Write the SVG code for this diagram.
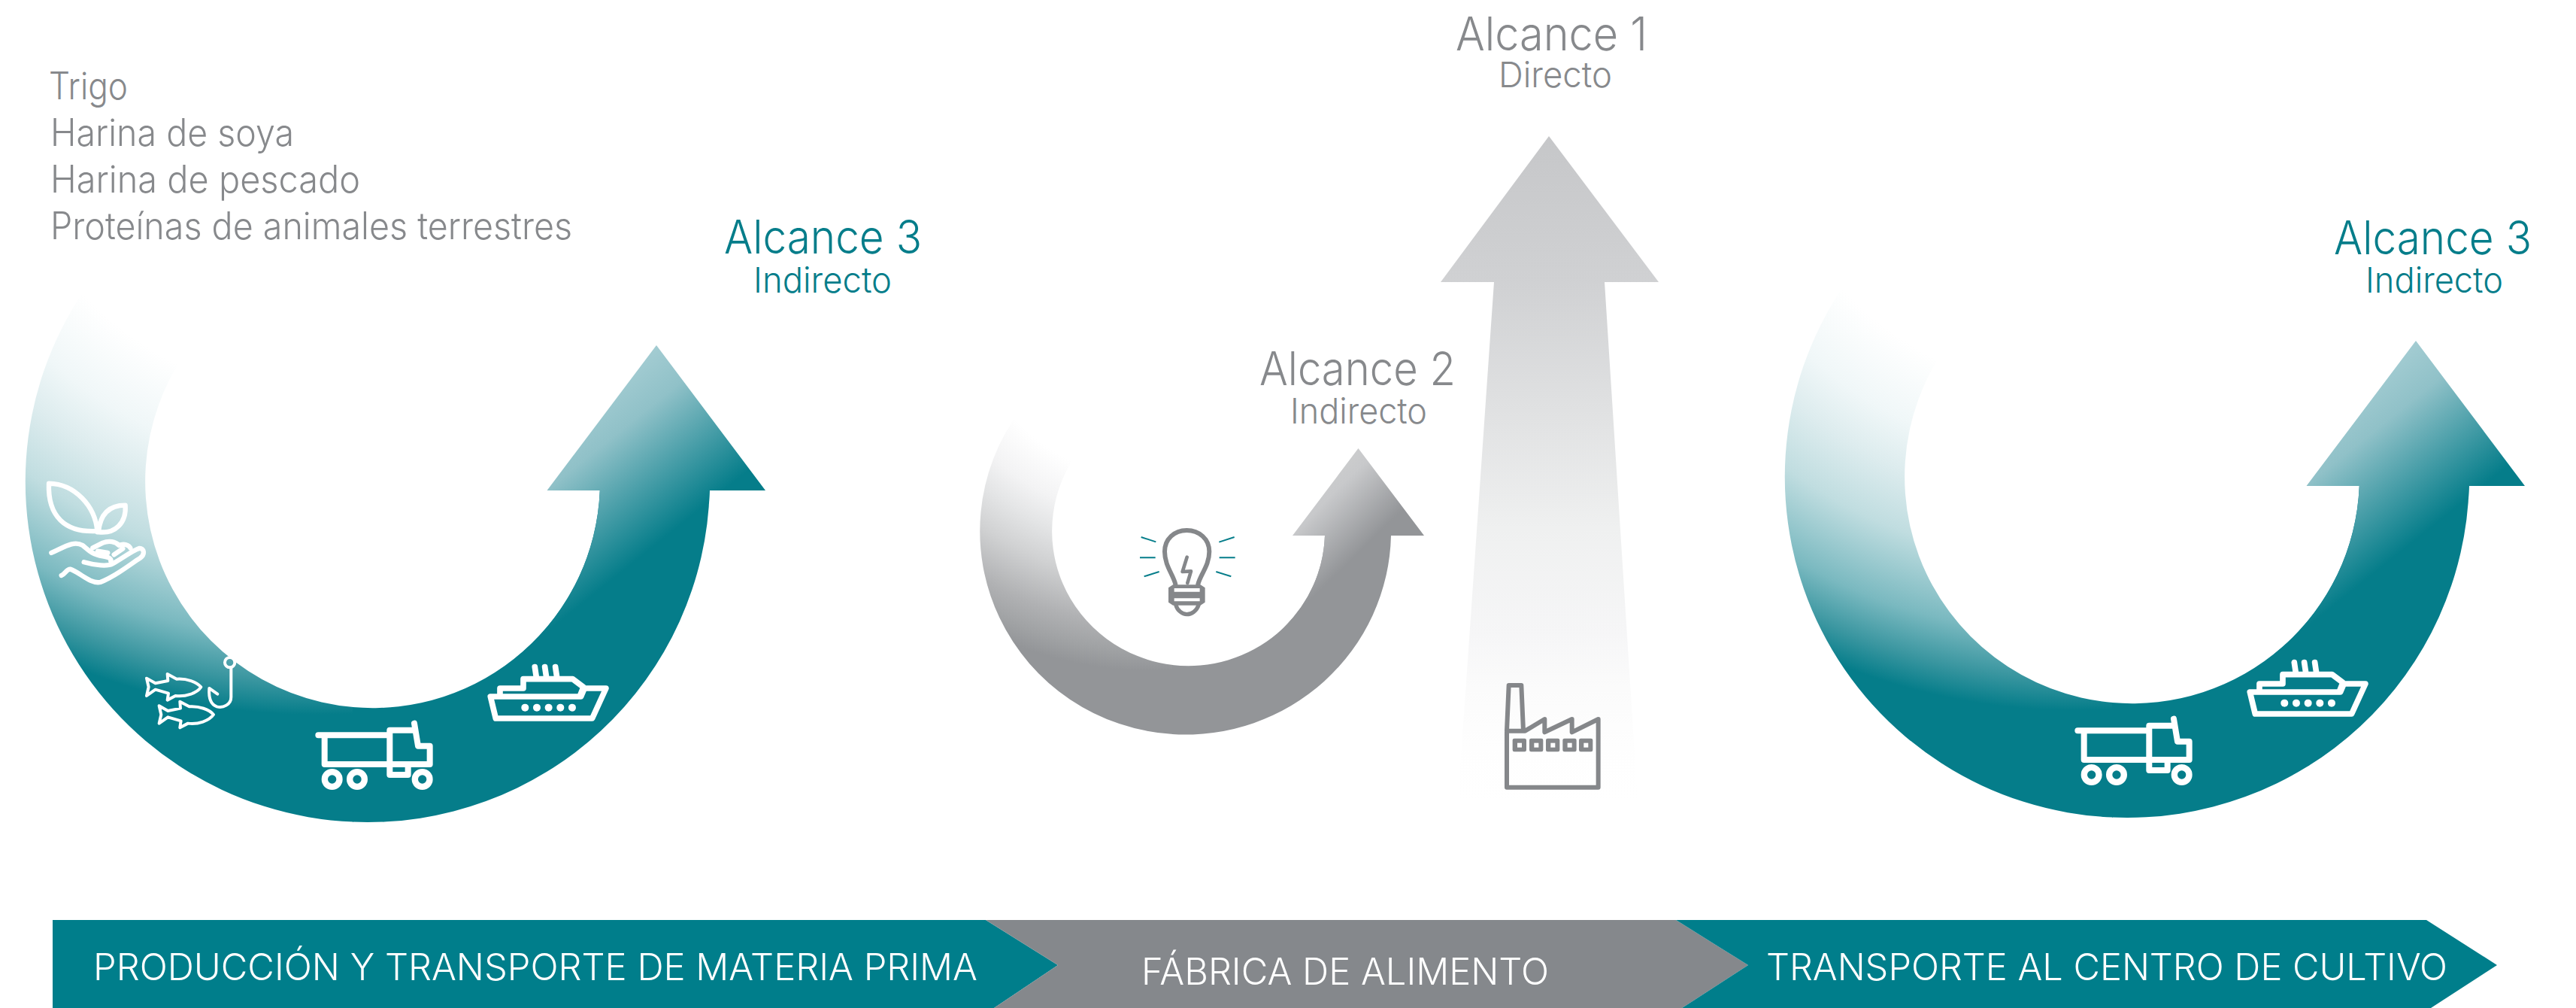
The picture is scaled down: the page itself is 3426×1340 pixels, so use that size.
<svg xmlns="http://www.w3.org/2000/svg" xmlns:xlink="http://www.w3.org/1999/xlink" width="3426" height="1340" viewBox="0 0 3426 1340">
<style>
text{font-family:"Inter","Liberation Sans",sans-serif;font-weight:300}
.g{fill:#87898c}.t{fill:#057d8a}.w{fill:#fff}
.l{font-size:50px}.a{font-size:62px}.b{font-size:47px}.c{font-size:49px}
.ic{fill:none;stroke:#fff;stroke-linecap:round;stroke-linejoin:round}
.gi{fill:none;stroke:#85878a;stroke-linecap:round;stroke-linejoin:round}
</style>
<defs>
<radialGradient id="tealBody" gradientUnits="userSpaceOnUse" cx="420" cy="100" r="850">
<stop offset=".5" stop-color="#fff"/><stop offset=".609" stop-color="#f0f7f8"/><stop offset=".681" stop-color="#ddecee"/><stop offset=".769" stop-color="#c0dde0"/><stop offset=".882" stop-color="#7ab9c0"/><stop offset=".95" stop-color="#3a96a0"/><stop offset="1" stop-color="#057d8a"/>
</radialGradient>
<linearGradient id="tealHead" gradientUnits="userSpaceOnUse" x1="873" y1="459" x2="1002" y2="620">
<stop offset="0" stop-color="#a3ccd2"/><stop offset=".285" stop-color="#90c1c8"/><stop offset="1" stop-color="#057d8a"/>
</linearGradient>
<radialGradient id="greyBody" gradientUnits="userSpaceOnUse" cx="1535" cy="382" r="510">
<stop offset=".5" stop-color="#fff"/><stop offset=".609" stop-color="#f3f3f4"/><stop offset=".681" stop-color="#e4e5e6"/><stop offset=".769" stop-color="#d0d1d2"/><stop offset=".882" stop-color="#b0b1b3"/><stop offset=".95" stop-color="#a0a2a4"/><stop offset="1" stop-color="#939598"/>
</radialGradient>
<linearGradient id="greyHead" gradientUnits="userSpaceOnUse" x1="1806.5" y1="596" x2="1876" y2="667">
<stop offset="0" stop-color="#cbcccd"/><stop offset=".2" stop-color="#c8c9cb"/><stop offset="1" stop-color="#939598"/>
</linearGradient>
<linearGradient id="upArrow" gradientUnits="userSpaceOnUse" x1="0" y1="181" x2="0" y2="1065">
<stop offset="0" stop-color="#c6c7c9"/><stop offset=".22" stop-color="#d0d1d3"/><stop offset=".59" stop-color="#eff0f0"/><stop offset=".75" stop-color="#f6f6f7"/><stop offset=".83" stop-color="#fbfbfb"/><stop offset=".92" stop-color="#fefefe"/><stop offset="1" stop-color="#fff"/>
</linearGradient>
<g id="tealArrow">
<path fill="url(#tealBody)" d="M112,386 A455,453 0 0 0 470,1092.6 L470,940 A302.5,301 0 0 1 279,430 Z"/>
<path class="t" d="M469,1092.6 A455,453 0 0 0 943.8,652 L797.8,652 A302.5,301 0 0 1 469,940 Z"/>
<path fill="url(#tealHead)" d="M727.5,652 L873,459 L1018,652 L943.8,652 L943,669 L684,876 A302.5,301 0 0 0 797.8,652 Z"/>
</g>
<g id="truck" transform="translate(400 860) scale(.3333)">
<path class="ic" stroke-width="24" d="M70,352 H355 M95,352 V468 H515 V395 H468 L453,305 M355,468 V332 H452 M355,468 V510 H428 V468"/>
<circle class="ic" stroke-width="25" cx="125" cy="528" r="29.5"/><circle class="ic" stroke-width="25" cx="225" cy="528" r="29.5"/><circle class="ic" stroke-width="25" cx="485" cy="528" r="29.5"/>
</g>
<g id="ship" transform="translate(400 860) scale(.3333)">
<path class="ic" stroke-width="23" d="M757,198 H1118 L1132,165 H1218 L1163,285 H778 Z M795,190 V165 H888 V128 H1085 L1128,160 L1116,190 M934,80 L940,120 M974,80 L980,120 M1016,80 L1022,120"/>
<g class="w"><circle cx="895" cy="242" r="15"/><circle cx="942" cy="242" r="15"/><circle cx="989" cy="242" r="15"/><circle cx="1036" cy="242" r="15"/><circle cx="1083" cy="242" r="15"/></g>
</g>
</defs>

<g id="scope3-left-arrow">
<use xlink:href="#tealArrow" href="#tealArrow"/>
<use xlink:href="#truck" href="#truck"/>
<use xlink:href="#ship" href="#ship"/>
<g id="plant-hand" transform="translate(30 620) scale(.3333)" class="ic" stroke-width="19">
<path d="M105,68 C210,70 290,160 298,258 C170,265 100,200 105,68 Z M410,155 C350,155 310,185 303,262 C370,270 415,225 410,155 Z M298,262 H330"/>
<path d="M115,345 C170,320 205,295 240,315 C265,335 275,350 320,358 C345,362 355,368 352,378 M245,382 C290,395 340,400 360,388 C400,365 440,335 465,327 C485,325 490,350 470,365 C430,390 370,440 310,462 C270,470 225,420 190,410 C175,410 170,430 155,435 M280,325 L320,305 C345,295 370,300 385,315 C405,305 425,315 430,325 M300,338 L340,345 M365,352 L400,328"/>
</g>
<g id="fish-hook" transform="translate(30 620) scale(.3333)" class="ic" stroke-width="12">
<path d="M495,845 L530,865 L580,855 L578,828 L615,848 C655,845 695,860 712,880 C695,905 650,920 610,915 L578,932 L582,905 L530,890 L495,915 L503,880 Z"/>
<path d="M545,955 L580,975 L630,965 L628,938 L665,958 C705,955 745,970 762,990 C745,1015 700,1030 660,1025 L628,1042 L632,1015 L580,1000 L545,1025 L553,990 Z"/>
<circle cx="827" cy="782" r="20"/>
<path d="M832,805 V920 C832,950 800,965 775,958 C750,950 742,925 745,885 L778,908"/>
</g>
</g>

<g id="scope2-arrow">
<path fill="url(#greyBody)" d="M1355.5,547 A273.5,270.5 0 0 0 1560,976 L1560,883.9 A181.5,179 0 0 1 1437.5,596 Z"/>
<path fill="#939598" d="M1559,976 A273.5,270.5 0 0 0 1850,712 L1762,712 A181.5,179 0 0 1 1559,883.9 Z"/>
<path fill="url(#greyHead)" d="M1719,712 L1806.5,596 L1894,712 L1830.7,712 L1708,833.4 A181.5,179 0 0 0 1762,712 Z"/>
</g>
<g id="bulb" transform="translate(1480 680) scale(.3333)">
<path class="gi" stroke-width="18" d="M250,290 C240,250 207,215 207,160 C207,110 245,75 295,75 C345,75 385,110 385,160 C385,215 350,250 340,290"/>
<path class="gi" stroke-width="14" d="M296,182 L278,240 L312,238 L298,285"/>
<path fill="#85878a" d="M240,292 H350 L368,304 V362 L350,374 H240 L222,362 V304 Z"/>
<path class="w" d="M245,306 H347 V320 H245 Z M245,346 H347 V358 H245 Z"/>
<path class="gi" stroke-width="16" d="M252,374 C258,395 278,410 295,410 C315,410 335,395 342,374"/>
<path fill="none" stroke="#057d8a" stroke-width="6" d="M113,102 L172,121 M108,184 H170 M125,259 L185,240 M485,102 L424,122 M425,184 H488 M412,240 L472,259"/>
</g>

<g id="scope1-arrow">
<path fill="url(#upArrow)" d="M2060,181 L2206,375 H2134 L2178,1065 H1939 L1987,375 H1916 Z"/>
</g>
<g id="factory" transform="translate(1960 890) scale(.3333)">
<path class="gi" stroke-width="18" d="M132,250 V470 H497 V198 L392,250 V198 L283,250 V198 L205,245 H132 L140,63 H190 L198,245"/>
<g fill="#85878a"><rect x="155" y="275" width="55" height="53" rx="7"/><rect x="222" y="275" width="55" height="53" rx="7"/><rect x="288" y="275" width="55" height="53" rx="7"/><rect x="355" y="275" width="55" height="53" rx="7"/><rect x="420" y="275" width="55" height="53" rx="7"/></g>
<g class="w"><rect x="174" y="293" width="18" height="18"/><rect x="241" y="293" width="18" height="18"/><rect x="307" y="293" width="18" height="18"/><rect x="374" y="293" width="18" height="18"/><rect x="439" y="293" width="18" height="18"/></g>
</g>

<g id="scope3-right-arrow" transform="translate(2340 -6)">
<use xlink:href="#tealArrow" href="#tealArrow"/>
<use xlink:href="#truck" href="#truck"/>
<use xlink:href="#ship" href="#ship"/>
</g>

<g id="materials-list">
<text class="l g" x="65" y="132" textLength="105" lengthAdjust="spacingAndGlyphs">Trigo</text>
<text class="l g" x="67" y="194" textLength="324" lengthAdjust="spacingAndGlyphs">Harina de soya</text>
<text class="l g" x="67" y="256" textLength="412" lengthAdjust="spacingAndGlyphs">Harina de pescado</text>
<text class="l g" x="67" y="318" textLength="694" lengthAdjust="spacingAndGlyphs">Proteínas de animales terrestres</text>
</g>
<g id="label-scope3-left">
<text class="a t" x="963" y="337" textLength="263" lengthAdjust="spacingAndGlyphs">Alcance 3</text>
<text class="b t" x="1002" y="389" textLength="184" lengthAdjust="spacingAndGlyphs">Indirecto</text>
</g>
<g id="label-scope1">
<text class="a g" x="1936" y="67" textLength="255" lengthAdjust="spacingAndGlyphs">Alcance 1</text>
<text class="b g" x="1993" y="116" textLength="151" lengthAdjust="spacingAndGlyphs">Directo</text>
</g>
<g id="label-scope2">
<text class="a g" x="1675" y="512" textLength="261" lengthAdjust="spacingAndGlyphs">Alcance 2</text>
<text class="b g" x="1716" y="563" textLength="182" lengthAdjust="spacingAndGlyphs">Indirecto</text>
</g>
<g id="label-scope3-right">
<text class="a t" x="3104" y="338" textLength="263" lengthAdjust="spacingAndGlyphs">Alcance 3</text>
<text class="b t" x="3146" y="389" textLength="183" lengthAdjust="spacingAndGlyphs">Indirecto</text>
</g>

<g id="stage-production">
<path fill="#007e8b" d="M70,1223 H1311 L1407,1283 L1322,1340 H70 Z"/>
<text class="c w" x="124" y="1303" textLength="1176" lengthAdjust="spacingAndGlyphs">PRODUCCIÓN Y TRANSPORTE DE MATERIA PRIMA</text>
</g>
<g id="stage-factory">
<path fill="#85888c" d="M1311,1223 H2229 L2325,1283 L2237,1340 H1322 L1407,1283 Z"/>
<text class="c w" x="1518" y="1309" textLength="542" lengthAdjust="spacingAndGlyphs">FÁBRICA DE ALIMENTO</text>
</g>
<g id="stage-transport">
<path fill="#007e8b" d="M2229,1223 H3227 L3321,1283 L3233,1340 H2237 L2325,1283 Z"/>
<text class="c w" x="2349" y="1303" textLength="906" lengthAdjust="spacingAndGlyphs">TRANSPORTE AL CENTRO DE CULTIVO</text>
</g>
</svg>
